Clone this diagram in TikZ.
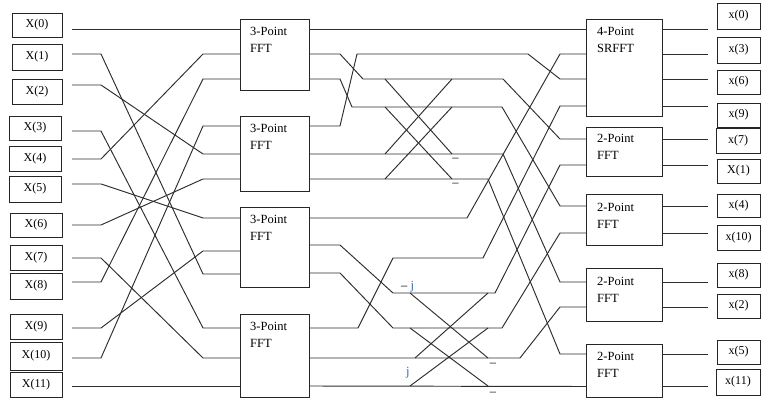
\documentclass[tikz,border=0pt]{standalone}
\usepackage{fontspec}
\setmainfont{Liberation Serif}
\definecolor{jblue}{RGB}{40,110,180}
\tikzset{
  wire/.style={draw=black!82, line width=0.95pt},
  fbox/.style={draw=black!85, line width=0.95pt, fill=white, inner sep=0pt, outer sep=0pt, anchor=north west},
  iobox/.style={draw=black!85, line width=0.95pt, inner sep=0pt, outer sep=0pt, font=\fontsize{12}{14}\selectfont},
  blbl/.style={inner sep=0pt, anchor=north west, align=left, font=\fontsize{12.5}{17}\selectfont},
  sgn/.style={inner sep=0pt, font=\fontsize{12.5}{14}\selectfont}
}
\begin{document}
\begin{tikzpicture}[x=1pt,y=-1pt]
\useasboundingbox[fill=white] (0,0) rectangle (761,398);
% ---------- input boxes ----------
\node[iobox, minimum width=50pt, minimum height=24pt] (X0) at (37,25) {X(0)};
\node[iobox, minimum width=50pt, minimum height=26pt] (X1) at (37,57) {X(1)};
\node[iobox, minimum width=50pt, minimum height=25pt] (X2) at (37,91.5) {X(2)};
\node[iobox, minimum width=52pt, minimum height=24pt] (X3) at (35,128) {X(3)};
\node[iobox, minimum width=52pt, minimum height=25pt] (X4) at (35,158.5) {X(4)};
\node[iobox, minimum width=52pt, minimum height=26pt] (X5) at (35,189) {X(5)};
\node[iobox, minimum width=52pt, minimum height=24pt] (X6) at (36,225) {X(6)};
\node[iobox, minimum width=52pt, minimum height=25pt] (X7) at (36,257.5) {X(7)};
\node[iobox, minimum width=52pt, minimum height=26pt] (X8) at (36,286) {X(8)};
\node[iobox, minimum width=52pt, minimum height=25pt] (X9) at (36,326.5) {X(9)};
\node[iobox, minimum width=52pt, minimum height=28pt] (X10) at (36,356) {X(10)};
\node[iobox, minimum width=52pt, minimum height=25pt] (X11) at (36,384.5) {X(11)};
% ---------- output boxes ----------
\node[iobox, minimum width=43pt, minimum height=26pt] (y0) at (738.5,16) {x(0)};
\node[iobox, minimum width=43pt, minimum height=26pt] (y3) at (738.5,50) {x(3)};
\node[iobox, minimum width=43pt, minimum height=24pt] (y6) at (738.5,82) {x(6)};
\node[iobox, minimum width=43pt, minimum height=24pt] (y9) at (738.5,115) {x(9)};
\node[iobox, minimum width=44pt, minimum height=25pt] (y7) at (738,140.5) {x(7)};
\node[iobox, minimum width=43pt, minimum height=24pt] (y1) at (738.5,171) {X(1)};
\node[iobox, minimum width=43pt, minimum height=23pt] (y4) at (738.5,205.5) {x(4)};
\node[iobox, minimum width=43pt, minimum height=25pt] (y10) at (738.5,237.5) {x(10)};
\node[iobox, minimum width=43pt, minimum height=24pt] (y8) at (738.5,275) {x(8)};
\node[iobox, minimum width=43pt, minimum height=24pt] (y2) at (738.5,306) {x(2)};
\node[iobox, minimum width=43pt, minimum height=24pt] (y5) at (738.5,352) {x(5)};
\node[iobox, minimum width=44pt, minimum height=26pt] (y11) at (738,382) {x(11)};
% ---------- FFT boxes ----------
\node[fbox, minimum width=69pt, minimum height=71pt] (f1) at (240,19) {};
\node[fbox, minimum width=69pt, minimum height=75pt] (f2) at (240,116) {};
\node[fbox, minimum width=69pt, minimum height=80pt] (f3) at (240,207) {};
\node[fbox, minimum width=69pt, minimum height=83pt] (f4) at (240,314) {};
\node[fbox, minimum width=76pt, minimum height=97pt] (sr) at (586,19) {};
\node[fbox, minimum width=76pt, minimum height=49pt] (ta) at (586,127) {};
\node[fbox, minimum width=76pt, minimum height=51pt] (tb) at (586,194) {};
\node[fbox, minimum width=76pt, minimum height=53pt] (tc) at (586,268) {};
\node[fbox, minimum width=76pt, minimum height=53pt] (td) at (586,344) {};
\node[blbl] (f1t) at (250,27) {3-Point\\FFT};
\node[blbl] (f2t) at (250,124) {3-Point\\FFT};
\node[blbl] (f3t) at (250,215) {3-Point\\FFT};
\node[blbl] (f4t) at (250,322) {3-Point\\FFT};
\node[blbl] (srt) at (597,27) {4-Point\\SRFFT};
\node[blbl] (tat) at (597,134) {2-Point\\FFT};
\node[blbl] (tbt) at (597,203) {2-Point\\FFT};
\node[blbl] (tct) at (597,277) {2-Point\\FFT};
\node[blbl] (tdt) at (597,352) {2-Point\\FFT};
% ---------- ports ----------
\foreach \n/\y in {0/29,1/54,2/85,3/131,4/159,5/184,6/225,7/258,8/282,9/328,10/358,11/386}
  \coordinate (s\n) at (72,\y);
\coordinate (f1i1) at (240,29);  \coordinate (f1i2) at (240,54);  \coordinate (f1i3) at (240,79);
\coordinate (f2i1) at (240,126); \coordinate (f2i2) at (240,154); \coordinate (f2i3) at (240,179);
\coordinate (f3i1) at (240,218); \coordinate (f3i2) at (240,251); \coordinate (f3i3) at (240,274);
\coordinate (f4i1) at (240,328); \coordinate (f4i2) at (240,358); \coordinate (f4i3) at (240,386);
\coordinate (f1o1) at (309,29);  \coordinate (f1o2) at (309,54);  \coordinate (f1o3) at (309,79);
\coordinate (f2o1) at (309,126); \coordinate (f2o2) at (309,154); \coordinate (f2o3) at (309,179);
\coordinate (f3o1) at (309,218); \coordinate (f3o2) at (309,245); \coordinate (f3o3) at (309,273);
\coordinate (f4o1) at (309,328); \coordinate (f4o2) at (309,358); \coordinate (f4o3) at (309,386);
\coordinate (sri1) at (586,29); \coordinate (sri2) at (586,54); \coordinate (sri3) at (586,79); \coordinate (sri4) at (586,106);
\coordinate (tai1) at (586,139); \coordinate (tai2) at (586,165);
\coordinate (tbi1) at (586,206); \coordinate (tbi2) at (586,233);
\coordinate (tci1) at (586,282); \coordinate (tci2) at (586,307);
\coordinate (tdi1) at (586,354); \coordinate (tdi2) at (586,386.5);
% ---------- input wiring ----------
\draw[wire] (s0) -- (f1i1);
\draw[wire] (s1) -- (101,54) -- (203,274) -- (f3i3);
\draw[wire] (s2) -- (101,85) -- (203,154) -- (f2i2);
\draw[wire] (s3) -- (101,131) -- (203,328) -- (f4i1);
\draw[wire] (s4) -- (101,159) -- (203,54) -- (f1i2);
\draw[wire] (s5) -- (101,184) -- (203,218) -- (f3i1);
\draw[wire] (s6) -- (101,225) -- (203,179) -- (f2i3);
\draw[wire] (s7) -- (101,258) -- (203,358) -- (f4i2);
\draw[wire] (s8) -- (101,282) -- (203,79) -- (f1i3);
\draw[wire] (s9) -- (101,328) -- (203,251) -- (f3i2);
\draw[wire] (s10) -- (101,358) -- (203,126) -- (f2i1);
\draw[wire] (s11) -- (f4i3);
% ---------- middle wiring ----------
\draw[wire] (f1o1) -- (sri1);
\draw[wire] (f1o2) -- (340,54) -- (363,79) -- (503,79) -- (560,139) -- (tai1);
\draw[wire] (f1o3) -- (340,79) -- (352,107) -- (502,107) -- (560,206) -- (tbi1);
\draw[wire] (f2o1) -- (340,126) -- (357,54) -- (528,54) -- (560,79) -- (sri3);
\draw[wire] (f2o2) -- (503,154) -- (560,282) -- (tci1);
\draw[wire] (f2o3) -- (488,179) -- (560,354) -- (tdi1);
\draw[wire] (f3o1) -- (467,218) -- (560,54) -- (sri2);
\draw[wire] (f3o2) -- (340,245) -- (393,293) -- (495,293) -- (560,165) -- (tai2);
\draw[wire] (f3o3) -- (340,273) -- (393,328) -- (502,328) -- (560,233) -- (tbi2);
\draw[wire] (f4o1) -- (358,328) -- (393,258) -- (483,258) -- (560,106) -- (sri4);
\draw[wire] (f4o2) -- (520,358) -- (560,307) -- (tci2);
\draw[wire] (f4o3) -- (tdi2);
% ---------- butterflies ----------
\draw[wire] (385,79) -- (452,154);
\draw[wire] (385,107) -- (452,179);
\draw[wire] (385,154) -- (452,79);
\draw[wire] (385,179) -- (452,107);
\draw[wire] (410,293) -- (488,358);
\draw[wire] (410,328) -- (488,386);
\draw[wire] (415,358) -- (488,293);
\draw[wire] (410,386) -- (488,328);
\node[sgn] (m1) at (455.5,160) {–};
\node[sgn] (m2) at (455.5,185) {–};
\node[sgn] (m3) at (493,365) {–};
\node[sgn] (m4) at (493,394) {–};
\node[sgn, anchor=base west] (mj) at (401,290) {– \textcolor{jblue}{j}};
\node[sgn, anchor=base west, text=jblue] (pj) at (406,375) {j};
% ---------- output wiring ----------
\foreach \y/\t in {29/y0,54/y3,79/y6,106/y9,139/y7,165/y1,206/y4,233/y10,282/y8,307/y2,354/y5,386.5/y11}
  \draw[wire] (662,\y) -- (708,\y);
\end{tikzpicture}
\end{document}
